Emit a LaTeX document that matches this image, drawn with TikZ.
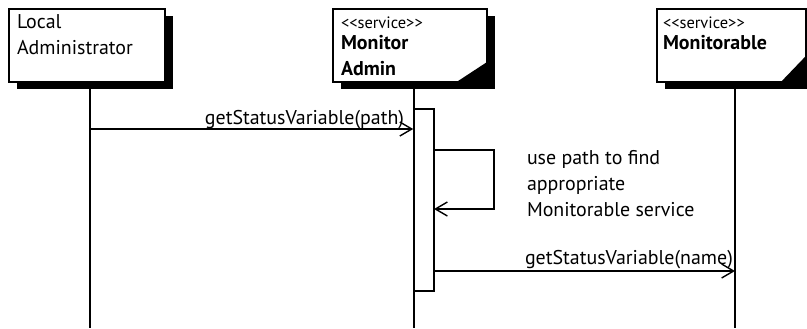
\documentclass[tikz,border=0pt]{standalone}
\usepackage{fontspec}
\setmainfont{PT Sans}
\usetikzlibrary{arrows.meta}
\begin{document}
\begin{tikzpicture}[x=1bp,y=-1bp,
  lw/.style={line width=1.6bp},
  frame/.style={draw=none, inner sep=0pt, outer sep=0pt},
  shadowfill/.style={fill=black},
  boxdraw/.style={lw, fill=white, line join=miter},
  lifeline/.style={line width=1.5bp},
  msg/.style={line width=1.4bp, -{Straight Barb[length=12bp,width=14bp,line width=1.4bp]}},
  txt/.style={inner sep=0pt, outer sep=0pt, font=\fontsize{20}{26}\selectfont, align=left},
  stereo/.style={inner sep=0pt, outer sep=0pt, font=\fontsize{16.5}{20}\selectfont},
  bold/.style={inner sep=0pt, outer sep=0pt, font=\fontsize{20}{26}\selectfont\bfseries, align=left},
]
\useasboundingbox (0,0) rectangle (807,328);
\clip (0,0) rectangle (807,328);

% frames of the three objects
\node[frame, minimum width=156bp, minimum height=73bp] (la) at (87,45.5) {};
\node[frame, minimum width=154bp, minimum height=73bp] (ma) at (410,45.5) {};
\node[frame, minimum width=149bp, minimum height=73bp] (mo) at (731.5,45.5) {};

% lifelines
\coordinate (la-top) at (90,82);   \coordinate (la-bot) at (90,328);
\coordinate (ma-top) at (414,82);  \coordinate (ma-bot) at (414,328);
\coordinate (mo-top) at (735,82);  \coordinate (mo-bot) at (735,328);
\draw[lifeline] (la-top) -- (la-bot);
\draw[lifeline] (ma-top) -- (ma-bot);
\draw[lifeline] (mo-top) -- (mo-bot);

% shadows
\fill[shadowfill] ([shift={(8,7)}]la.south west) rectangle ([shift={(8,7)}]la.north east);
\fill[shadowfill] ([shift={(8,7)}]ma.south west) rectangle ([shift={(8,7)}]ma.north east);
\fill[shadowfill] ([shift={(8,7)}]mo.south west) rectangle ([shift={(8,7)}]mo.north east);

% boxes
\draw[boxdraw] (la.south west) rectangle (la.north east);
\draw[boxdraw] (ma.north west) -- (ma.north east) -- ([shift={(0,-19)}]ma.south east)
  -- ([shift={(-29,0)}]ma.south east) -- (ma.south west) -- cycle;
\draw[boxdraw] (mo.north west) -- (mo.north east) -- ([shift={(0,-25)}]mo.south east)
  -- ([shift={(-24,0)}]mo.south east) -- (mo.south west) -- cycle;

% box texts (base anchor = baseline of last line)
\node[txt, anchor=base west] (la-t) at (17,54) {Local\\Administrator};
\node[stereo, anchor=base west] (ma-s) at (341,28) {<\kern0pt<service>\kern0pt>};
\node[bold, anchor=base west] (ma-t) at (341,75) {Monitor\\Admin};
\node[stereo, anchor=base west] (mo-s) at (663,28) {<\kern0pt<service>\kern0pt>};
\node[bold, anchor=base west] (mo-t) at (663,49) {Monitorable};

% activation bar
\node[draw, lw, fill=white, minimum width=20bp, minimum height=182bp, inner sep=0pt] (act) at (424,200) {};

% messages
\coordinate (m1s) at (90,129);
\draw[msg] (m1s) -- (m1s -| act.west);
\node[txt, anchor=base east] (m1l) at (404,124) {getStatusVariable(path)};

\coordinate (s1) at (434,150);
\coordinate (s2) at (434,209);
\draw[msg] (s1) -- (494,150) -- (494,209) -- (s2);
\node[txt, anchor=base west] (note) at (527,216) {use path to find\\appropriate\\Monitorable service};

\coordinate (m3s) at (434,271);
\draw[msg] (m3s) -- (m3s -| mo-top);
\node[txt, anchor=base west] (m3l) at (525,264) {getStatusVariable(name)};
\end{tikzpicture}
\end{document}
